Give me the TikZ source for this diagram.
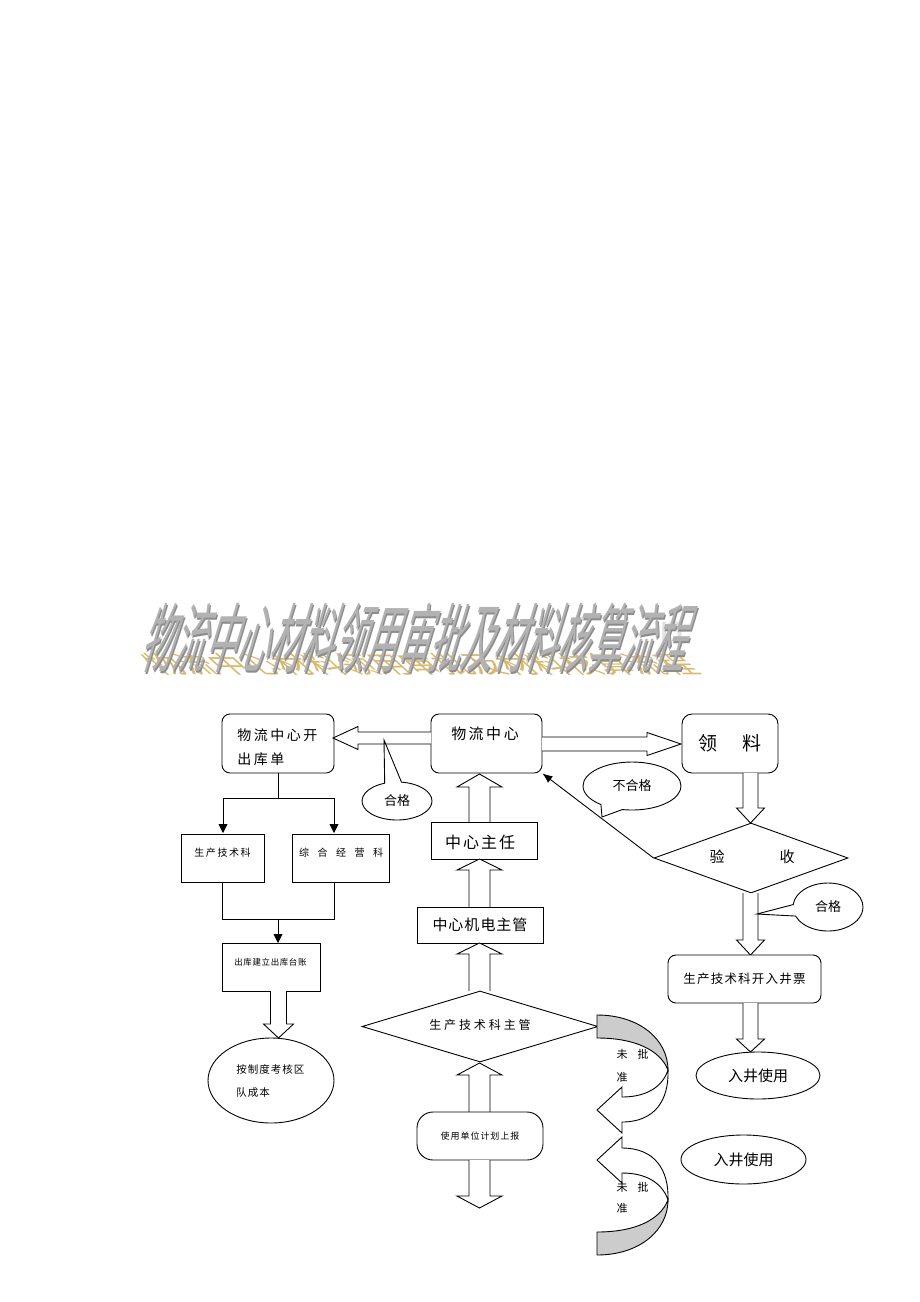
\documentclass[tikz,border=0pt]{standalone}
\usepackage{fontspec}
\setmainfont{Noto Sans CJK SC}
\newfontfamily\latinsans{Liberation Sans}
\usetikzlibrary{shapes.geometric,shapes.callouts,arrows.meta}
\newlength\lspk
\makeatletter
\def\lsp#1#2{\setlength\lspk{#1}\lsp@b#2\relax}
\def\lsp@b#1{#1\lsp@a}
\def\lsp@a#1{\ifx#1\relax\else\kern\lspk#1\expandafter\lsp@a\fi}
\makeatother
\newcommand\fsz[1]{\fontsize{#1}{#1}\selectfont}
% vertical hollow arrow: x, tail y, head-base y, tip y, shaft half width, head half width
\newcommand\vArrow[6]{\draw[fill=white] (#1-#5,#2) -- (#1-#5,#3) -- (#1-#6,#3) -- (#1,#4) -- (#1+#6,#3) -- (#1+#5,#3) -- (#1+#5,#2);}
\begin{document}
\begin{tikzpicture}[x=1pt,y=-1pt,line width=0.9pt,
  rbox/.style={draw,rounded corners=8pt,inner sep=0pt,fill=white},
  sbox/.style={draw,inner sep=0pt,fill=white},
  lbl/.style={inner sep=0pt},
  ell/.style={draw,ellipse,inner sep=0pt,fill=white},
  call/.style={draw,ellipse callout,inner sep=0pt,fill=white,callout pointer arc=28},
  arr/.style={-{Triangle[length=9pt,width=9pt]}}]
\fill[white] (0,0) rectangle (920,1302);
\useasboundingbox (0,0) rectangle (920,1302);

% ---- title (WordArt-like) ----
\node[lbl,text=gray!22] (wm) at (672,634) {\latinsans\fsz{46}n};
\begin{scope}[shift={(420,664)}]
  \node[lbl,text={rgb,255:red,205;green,160;blue,60},opacity=0.75,xslant=-1.1,yscale=0.75,transform shape] (title2) at (0,0) {\fsz{32}物流中心材料领用审批及材料核算流程};
\end{scope}
\begin{scope}[shift={(421.5,639.5)}]
  \node[lbl,text=gray!90,xslant=0.3,yscale=2.35,transform shape] (title1) at (0,0) {\fsz{32}物流中心材料领用审批及材料核算流程};
\end{scope}
\begin{scope}[shift={(420,638)}]
  \node[lbl,text=gray!60,xslant=0.3,yscale=2.35,transform shape] (title) at (0,0) {\fsz{32}物流中心材料领用审批及材料核算流程};
\end{scope}

% ---- top row ----
\node[rbox,minimum width=112pt,minimum height=59pt] (A) at (278,743.5) {};
\node[lbl,anchor=west] (At1) at (237,735) {\fsz{14}\lsp{2.5pt}{物流中心开}};
\node[lbl,anchor=west] (At2) at (237,759) {\fsz{14}\lsp{2.5pt}{出库单}};
\node[rbox,minimum width=111pt,minimum height=59pt] (B) at (486.5,743.5) {};
\node[lbl] (Bt) at (485,734) {\fsz{15}\lsp{2.5pt}{物流中心}};
\node[rbox,rounded corners=10pt,minimum width=96pt,minimum height=59pt] (C) at (730,743.5) {\fsz{19}领\hspace{25pt}料};

% horizontal hollow arrows
\draw[fill=white] (431,732) -- (358,732) -- (358,726.5) -- (333,738) -- (358,749.5) -- (358,744) -- (431,744);
\draw[fill=white] (542,737) -- (647,737) -- (647,732.5) -- (681,744) -- (647,755.5) -- (647,751) -- (542,751);

\node[call,minimum width=70pt,minimum height=38pt,callout absolute pointer={(384,740)}] (K1) at (397,801) {\fsz{13}合格};

% ---- right column ----
\vArrow{750.5}{773}{808}{823}{7.5}{14}
\node[draw,diamond,fill=white,inner sep=0pt,minimum width=194pt,minimum height=70pt] (V) at (751,858) {};
\node[lbl] (Vt) at (752,857) {\fsz{15}验\hspace{55pt}收};
\draw[-{Latex[length=10pt,width=8pt]}] (V.west) -- (B.south east);
\node[call,minimum width=98pt,minimum height=48pt,callout absolute pointer={(602,817)}] (K2) at (632,786) {\fsz{13}不合格};
\vArrow{750.5}{893}{940}{955}{7.5}{14}
\node[call,minimum width=70pt,minimum height=48pt,callout absolute pointer={(757,914)}] (K3) at (828,907) {\fsz{13}合格};
\node[rbox,minimum width=153pt,minimum height=48pt] (P) at (744.5,979) {\fsz{12.5}\lsp{1.2pt}{生产技术科开入井票}};
\vArrow{750.5}{1003}{1039}{1052}{7.5}{14}
\node[ell,minimum width=124pt,minimum height=47pt] (E1) at (758,1075.5) {\fsz{15}入井使用};
\node[ell,minimum width=125pt,minimum height=49pt] (E2) at (743.5,1159.5) {\fsz{15}入井使用};

% ---- left column ----
\node[sbox,minimum width=83pt,minimum height=48pt] (S1) at (222.5,858) {};
\node[lbl] (S1t) at (222.5,853) {\fsz{10}\lsp{1.6pt}{生产技术科}};
\node[sbox,minimum width=97pt,minimum height=48pt] (S2) at (340.5,858) {};
\node[lbl] (S2t) at (341,853) {\fsz{10}\lsp{8.5pt}{综合经营科}};
\coordinate (j1) at (278,798);
\coordinate (s1in) at (223,833);
\coordinate (s2in) at (334,833);
\draw (A.south) -- (j1);
\draw[arr] (j1) -| (s1in);
\draw[arr] (j1) -| (s2in);
\node[sbox,minimum width=98pt,minimum height=48pt] (T) at (271,967) {};
\node[lbl] (Tt) at (270.5,962) {\fsz{8.5}\lsp{0.6pt}{出库建立出库台账}};
\coordinate (b1) at (222,882);
\coordinate (b2) at (334,882);
\coordinate (j2) at (278,919);
\coordinate (tin) at (278,943);
\draw (b1) -- (222,919) -- (334,919) -- (b2);
\draw[arr] (j2) -- (tin);
\vArrow{278.5}{991}{1024}{1038}{8}{15}
\node[ell,minimum width=126pt,minimum height=85pt] (Q) at (271,1080.5) {};
\node[lbl,anchor=west] (Qt1) at (236,1069) {\fsz{10.5}\lsp{1pt}{按制度考核区}};
\node[lbl,anchor=west] (Qt2) at (236,1093) {\fsz{10.5}\lsp{1pt}{队成本}};

% ---- middle column ----
\vArrow{479.5}{822}{787}{774}{10.5}{22.5}
\node[sbox,minimum width=106pt,minimum height=37pt] (Z) at (484,840.5) {};
\node[lbl] (Zt) at (480,842) {\fsz{16}\lsp{2pt}{中心主任}};
\vArrow{479.5}{907}{870}{859}{10.5}{22.5}
\node[sbox,minimum width=126pt,minimum height=36pt] (M) at (480,925) {\fsz{15}\lsp{1pt}{中心机电主管}};
\vArrow{479.5}{991}{954}{943}{10.5}{22.5}
\node[draw,diamond,fill=white,inner sep=0pt,minimum width=236pt,minimum height=71pt] (D) at (480,1026.5) {};
\node[lbl] (Dt) at (480,1025) {\fsz{12}\lsp{2.9pt}{生产技术科主管}};
\vArrow{479.5}{1112}{1075}{1063}{10.5}{22.5}
\node[rbox,rounded corners=16pt,minimum width=126pt,minimum height=48pt] (U) at (480,1136) {\fsz{9}\lsp{1pt}{使用单位计划上报}};
\vArrow{479.5}{1160}{1196}{1208}{10.5}{22.5}

% ---- curved "not approved" arrows ----
\draw[fill=white] (668,1070) .. controls (669,1100) and (655,1122) .. (622,1122) -- (622,1133) -- (597,1110) -- (622,1087) -- (622,1097) .. controls (645,1097) and (662,1088) .. (668,1070) -- cycle;
\draw[fill=gray!40] (597,1015) .. controls (640,1015) and (668,1040) .. (668,1070) .. controls (660,1050) and (635,1038) .. (597,1038) -- cycle;
\draw[fill=white] (668,1200) .. controls (669,1170) and (655,1148) .. (622,1148) -- (622,1137) -- (597,1160) -- (622,1183) -- (622,1173) .. controls (645,1173) and (662,1182) .. (668,1200) -- cycle;
\draw[fill=gray!40] (597,1255) .. controls (640,1255) and (668,1230) .. (668,1200) .. controls (660,1220) and (635,1232) .. (597,1232) -- cycle;
\node[lbl] (n1a) at (622,1054) {\fsz{11}未};
\node[lbl] (n1b) at (643,1054) {\fsz{11}批};
\node[lbl] (n1c) at (622,1077) {\fsz{11}准};
\node[lbl] (n2a) at (622,1187) {\fsz{11}未};
\node[lbl] (n2b) at (643,1187) {\fsz{11}批};
\node[lbl] (n2c) at (622,1208) {\fsz{11}准};
\end{tikzpicture}
\end{document}
